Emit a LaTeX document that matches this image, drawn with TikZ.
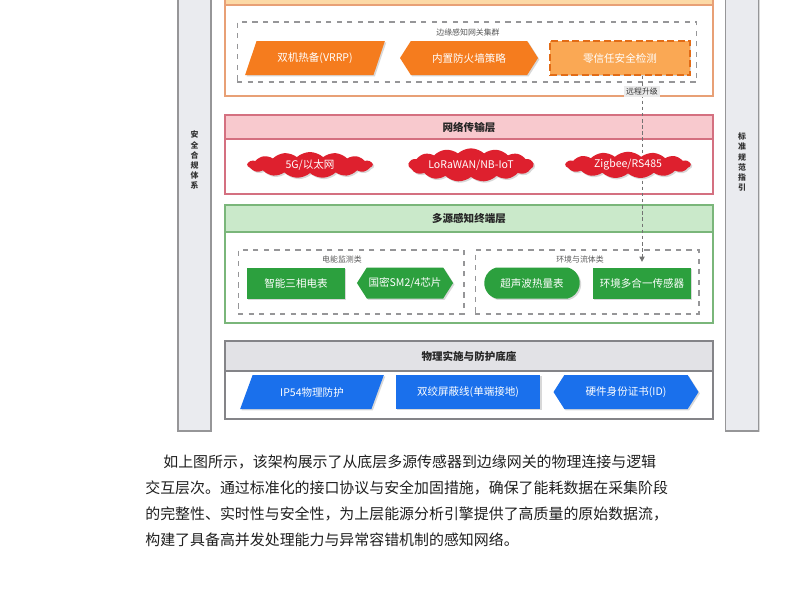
\documentclass[tikz,border=0pt]{standalone}
\usepackage{fontspec}
\setmainfont{Noto Sans CJK SC}
\usetikzlibrary{shapes.geometric, shapes.symbols, shapes.misc, arrows.meta, positioning, shadows}
\pgfdeclarelayer{back}
\pgfdeclarelayer{mid}
\pgfsetlayers{back,mid,main}
\definecolor{edgeline}{RGB}{232, 160, 118}
\definecolor{edgehead}{RGB}{252, 217, 166}
\definecolor{edgefill}{RGB}{245, 124, 30}
\definecolor{trustfill}{RGB}{250, 168, 84}
\definecolor{trustline}{RGB}{226, 108, 22}
\definecolor{netline}{RGB}{212, 112, 128}
\definecolor{nethead}{RGB}{248, 201, 206}
\definecolor{netfill}{RGB}{222, 32, 46}
\definecolor{senseline}{RGB}{122, 182, 122}
\definecolor{sensehead}{RGB}{202, 233, 202}
\definecolor{sensefill}{RGB}{44, 160, 62}
\definecolor{baseline}{RGB}{132, 132, 136}
\definecolor{basehead}{RGB}{226, 226, 230}
\definecolor{basefill}{RGB}{26, 112, 236}
\definecolor{barfill}{RGB}{234, 235, 239}
\definecolor{grpline}{RGB}{150, 150, 152}

\begin{document}
\begin{tikzpicture}[x=0.02cm, y=-0.02cm,
  shade/.style={drop shadow={shadow xshift=0.8pt, shadow yshift=-0.8pt, opacity=0.3}},
  sidebar/.style={draw=grpline, fill=barfill, line width=0.6pt, minimum width=0.66cm, minimum height=8.72cm, shade},
  sidetext/.style={align=center, font=\fontsize{4.5pt}{5.7pt}\selectfont\bfseries, text=black!80},
  layer/.style={draw=#1, fill=white, line width=0.7pt, minimum width=9.76cm, inner sep=0pt, shade},
  head/.style={draw=#1, line width=0.7pt, minimum width=9.76cm, anchor=north, font=\fontsize{6pt}{7pt}\selectfont\bfseries, text=black!85},
  grp/.style={draw=grpline, dashed, line width=0.6pt, inner sep=0pt},
  grptext/.style={font=\fontsize{4.5pt}{5pt}\selectfont\itshape, text=black!65},
  box/.style={text=white, font=\fontsize{6pt}{7pt}\selectfont, inner sep=1pt, shade},
  slant/.style={box, trapezium, trapezium left angle=62, trapezium right angle=118, trapezium stretches=true},
  hexa/.style={box, signal, signal to=west and east, signal pointer angle=115},
  puff/.style={box, cloud, cloud puffs=15, cloud puff arc=85, aspect=5, inner sep=0pt, fill=netfill, minimum width=2.5cm, minimum height=0.52cm},
  upline/.style={draw=black!55, line width=0.5pt, dash pattern=on 2pt off 1.5pt, -{Triangle[length=3pt, width=3pt]}, shorten >=3pt},
  uptext/.style={fill=black!8, inner sep=1pt, font=\fontsize{4.5pt}{5pt}\selectfont, text=black!80},
  para/.style={anchor=west, inner sep=0pt, font=\fontsize{8.5pt}{10pt}\selectfont, text=black!88}]
\clip (0,0) rectangle (800,600);
\useasboundingbox (0,0) rectangle (800,600);

% side bars
\node[sidebar] (safety) at (194.5,213) {};
\node[sidetext] at (194.5,160) {安\\全\\合\\规\\体\\系};
\node[sidebar] (norms) at (742,213) {};
\node[sidetext] at (742,162) {标\\准\\规\\范\\指\\引};

\begin{pgfonlayer}{back}
% layer frames
\node[layer=edgeline, minimum height=2.32cm] (edge) at (469,38) {};
\node[head=edgeline, fill=edgehead, minimum height=0.5cm] (edgehd) at (edge.north) {};
\node[grp, minimum width=9.2cm, minimum height=1.2cm] (edgegrp) at (467,52) {};
\node[layer=netline, minimum height=1.58cm] (net) at (469,154.5) {};
\node[head=netline, fill=nethead, minimum height=0.48cm] (nethd) at (net.north) {网络传输层};
\node[layer=senseline, minimum height=2.36cm] (sense) at (469,264) {};
\node[head=senseline, fill=sensehead, minimum height=0.54cm] (sensehd) at (sense.north) {多源感知终端层};
\node[grp, minimum width=4.52cm, minimum height=1.28cm] (powergrp) at (351,282) {};
\node[grp, minimum width=4.48cm, minimum height=1.28cm] (envgrp) at (587,282) {};
\node[layer=baseline, minimum height=1.56cm] (base) at (469,380) {};
\node[head=baseline, fill=basehead, minimum height=0.6cm] (basehd) at (base.north) {物理实施与防护底座};
\end{pgfonlayer}

% edge gateway layer
\node[grptext] at (468,32) {边缘感知网关集群};
\node[slant, fill=edgefill, minimum width=2.8cm, minimum height=0.68cm] (vrrp) at (315,58) {双机热备(VRRP)};
\node[hexa, fill=edgefill, minimum width=2.76cm, minimum height=0.68cm] (fw) at (469,58) {内置防火墙策略};
\node[box, fill=trustfill, draw=trustline, line width=1.1pt, dash pattern=on 4pt off 2pt, minimum width=2.8cm, minimum height=0.68cm] (zt) at (620,58) {零信任安全检测};

% network layer
\node[puff] (fiveg) at (310,165) {5G/以太网};
\node[puff] (lora) at (471,165) {LoRaWAN/NB-IoT};
\node[puff] (zigbee) at (628,165) {Zigbee/RS485};

% sensing layer
\node[grptext] at (342,259) {电能监测类};
\node[grptext] at (580,259) {环境与流体类};
\node[box, fill=sensefill, minimum width=1.96cm, minimum height=0.62cm] (meter) at (296,283) {智能三相电表};
\node[hexa, fill=sensefill, minimum width=1.92cm, minimum height=0.62cm] (chip) at (405,283) {国密SM2/4芯片};
\node[box, rounded rectangle, rounded rectangle arc length=150, fill=sensefill, minimum width=1.98cm, minimum height=0.62cm] (heat) at (532,283) {超声波热量表};
\node[box, fill=sensefill, minimum width=1.96cm, minimum height=0.62cm] (env) at (642,283) {环境多合一传感器};

% physical base
\node[slant, fill=basefill, minimum width=2.88cm, minimum height=0.68cm] (ip54) at (312,392) {IP54物理防护};
\node[box, fill=basefill, minimum width=2.9cm, minimum height=0.68cm] (cable) at (468,392) {双绞屏蔽线(单端接地)};
\node[hexa, fill=basefill, minimum width=2.9cm, minimum height=0.68cm] (cert) at (626,392) {硬件身份证书(ID)};

% remote upgrade
\begin{pgfonlayer}{mid}
\draw[upline] (zt.south -| env.north) -- node[uptext, pos=0.08] {远程升级} (env.north);
\end{pgfonlayer}

% text
\node[para] (line1) at (163,462) {如上图所示，该架构展示了从底层多源传感器到边缘网关的物理连接与逻辑};
\node[para] (line2) at (145,488) {交互层次。通过标准化的接口协议与安全加固措施，确保了能耗数据在采集阶段};
\node[para] (line3) at (145,514) {的完整性、实时性与安全性，为上层能源分析引擎提供了高质量的原始数据流，};
\node[para] (line4) at (145,540) {构建了具备高并发处理能力与异常容错机制的感知网络。};
\end{tikzpicture}
\end{document}
